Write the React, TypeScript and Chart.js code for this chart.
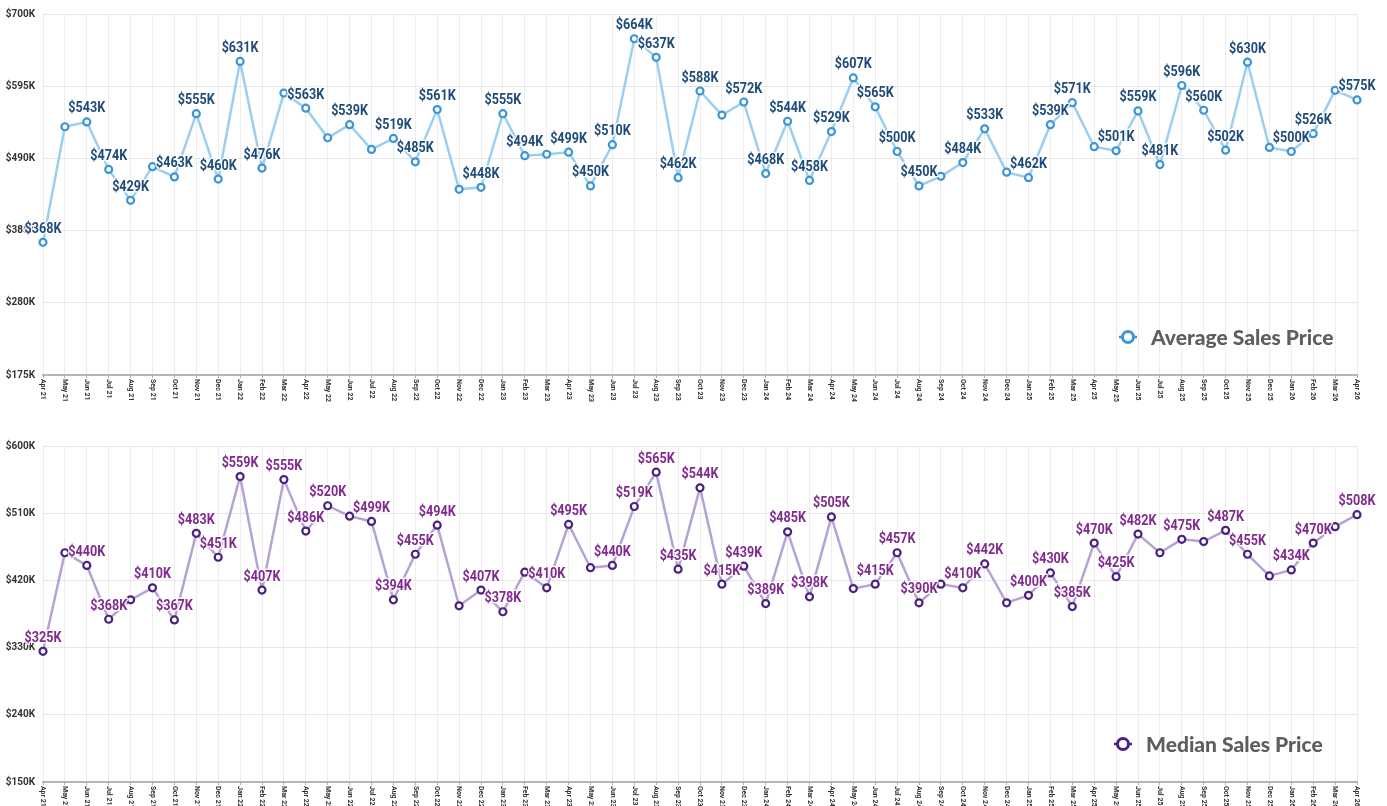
import React, { useEffect, useRef } from 'react';
import { Chart, registerables } from 'chart.js';

Chart.register(...registerables);

const months = [
  'Apr 21', 'May 21', 'Jun 21', 'Jul 21', 'Aug 21', 'Sep 21', 'Oct 21', 'Nov 21', 'Dec 21',
  'Jan 22', 'Feb 22', 'Mar 22', 'Apr 22', 'May 22', 'Jun 22', 'Jul 22', 'Aug 22', 'Sep 22', 'Oct 22', 'Nov 22', 'Dec 22',
  'Jan 23', 'Feb 23', 'Mar 23', 'Apr 23', 'May 23', 'Jun 23', 'Jul 23', 'Aug 23', 'Sep 23', 'Oct 23', 'Nov 23', 'Dec 23',
  'Jan 24', 'Feb 24', 'Mar 24', 'Apr 24', 'May 24', 'Jun 24', 'Jul 24', 'Aug 24', 'Sep 24', 'Oct 24', 'Nov 24', 'Dec 24',
  'Jan 25', 'Feb 25', 'Mar 25', 'Apr 25', 'May 25', 'Jun 25', 'Jul 25', 'Aug 25', 'Sep 25', 'Oct 25', 'Nov 25', 'Dec 25',
  'Jan 26', 'Feb 26', 'Mar 26', 'Apr 26',
];

// values in $K
const avgSalesPrice = [
  368, 536, 543, 474, 429, 478, 463, 555, 460, 631,
  476, 585, 563, 520, 539, 503, 519, 485, 561, 445,
  448, 555, 494, 496, 499, 450, 510, 664, 637, 462,
  588, 553, 572, 468, 544, 458, 529, 607, 565, 500,
  450, 464, 484, 533, 470, 462, 539, 571, 507, 501,
  559, 481, 596, 560, 502, 630, 506, 500, 526, 589,
  575,
];

const medianSalesPrice = [
  325, 457, 440, 368, 394, 410, 367, 483, 451, 559,
  407, 555, 486, 520, 506, 499, 394, 455, 494, 386,
  407, 378, 431, 410, 495, 437, 440, 519, 565, 435,
  544, 415, 439, 389, 485, 398, 505, 409, 415, 457,
  390, 415, 410, 442, 390, 400, 430, 385, 470, 425,
  482, 457, 475, 472, 487, 455, 426, 434, 470, 492,
  508,
];

// indices whose value label is shown
const avgLabeledIdx = [0, 2, 3, 4, 6, 7, 8, 9, 10, 12, 14, 16, 17, 18, 20, 21, 22, 24, 25, 26, 27, 28, 29, 30, 32, 33, 34, 35, 36, 37, 38, 39, 40, 42, 43, 45, 46, 47, 49, 50, 51, 52, 53, 54, 55, 57, 58, 60];
const medLabeledIdx = [0, 2, 3, 5, 6, 7, 8, 9, 10, 11, 12, 13, 15, 16, 17, 18, 20, 21, 23, 24, 26, 27, 28, 29, 30, 31, 32, 33, 34, 35, 36, 38, 39, 40, 42, 43, 45, 46, 47, 48, 49, 50, 52, 54, 55, 57, 58, 60];

const avgAxis = { min: 175, max: 700, step: 105 };
const medAxis = { min: 150, max: 600, step: 90 };

const fmtK = (v: number) => `$${v}K`;

const customPlugin = {
  id: 'customDraw',
  afterDatasetsDraw(chart: any, _args: any, opts: any) {
    const ctx = chart.ctx;
    const meta = chart.getDatasetMeta(0);
    const data = chart.data.datasets[0].data as number[];
    ctx.save();
    ctx.font = 'bold 14px Roboto';
    ctx.textAlign = 'center';
    ctx.textBaseline = 'middle';
    ctx.lineJoin = 'round';
    (opts.labeled as number[]).forEach((i) => {
      const pt = meta.data[i];
      if (!pt) return;
      const t = fmtK(data[i]);
      ctx.save();
      ctx.translate(pt.x, pt.y - 13);
      ctx.scale(0.9, 1);
      ctx.lineWidth = 3;
      ctx.strokeStyle = 'rgba(255,255,255,0.85)';
      ctx.strokeText(t, 0, 0);
      ctx.fillStyle = opts.labelColor;
      ctx.fillText(t, 0, 0);
      ctx.restore();
    });
    ctx.restore();
  },
  afterDraw(chart: any, _args: any, opts: any) {
    const ctx = chart.ctx;
    const xs = chart.scales.x;
    // rotated x tick labels (reading top to bottom)
    ctx.save();
    ctx.font = 'bold 7px Roboto';
    ctx.fillStyle = '#333';
    ctx.textAlign = 'left';
    ctx.textBaseline = 'middle';
    (chart.data.labels as string[]).forEach((lab, i) => {
      const x = xs.getPixelForValue(i);
      ctx.save();
      ctx.translate(x, xs.top + 4);
      ctx.rotate(Math.PI / 2);
      ctx.fillText(lab, 0, 0);
      ctx.restore();
    });
    ctx.restore();

    // legend inside chart area
    const area = chart.chartArea;
    const cy = area.bottom - 38;
    const cx = opts.legendX;
    ctx.save();
    ctx.strokeStyle = opts.pointColor;
    ctx.lineWidth = 2.5;
    ctx.beginPath();
    ctx.moveTo(cx - 9, cy);
    ctx.lineTo(cx + 9, cy);
    ctx.stroke();
    ctx.beginPath();
    ctx.arc(cx, cy, 5.5, 0, Math.PI * 2);
    ctx.fillStyle = '#fff';
    ctx.fill();
    ctx.lineWidth = 3;
    ctx.stroke();
    ctx.font = '900 21px Lato';
    ctx.fillStyle = '#5e5e5e';
    ctx.textAlign = 'left';
    ctx.textBaseline = 'middle';
    ctx.fillText(opts.legendText, cx + 23, cy + 1);
    ctx.restore();
  },
};

function makeConfig(
  values: number[],
  labeled: number[],
  axis: { min: number; max: number; step: number },
  lineColor: string,
  pointColor: string,
  labelColor: string,
  legendText: string,
  legendX: number,
  padTop: number,
  xAxisH: number,
): any {
  return {
    type: 'line',
    data: {
      labels: months,
      datasets: [
        {
          label: legendText,
          data: values,
          borderColor: lineColor,
          borderWidth: 2.5,
          pointRadius: 3.5,
          pointBorderWidth: 2.2,
          pointBorderColor: pointColor,
          pointBackgroundColor: '#fff',
          tension: 0,
          fill: false,
        },
      ],
    },
    options: {
      animation: false,
      responsive: true,
      maintainAspectRatio: false,
      layout: { padding: { top: padTop, right: 30, left: 0, bottom: 0 } },
      plugins: {
        legend: { display: false },
        tooltip: { enabled: false },
        customDraw: { labeled, labelColor, pointColor, legendText, legendX },
      },
      scales: {
        x: {
          grid: { color: '#ececec', lineWidth: 1, drawTicks: true, tickLength: 3, tickColor: '#b0b0b0' },
          border: { color: '#b5b5b5', width: 2 },
          ticks: { display: false },
          afterFit: (s: any) => {
            s.height = xAxisH;
          },
        },
        y: {
          min: axis.min,
          max: axis.max,
          ticks: {
            stepSize: axis.step,
            callback: (v: any) => fmtK(v),
            font: { family: 'Roboto', weight: 'bold', size: 10 },
            color: '#333',
            padding: 8,
          },
          grid: { color: '#e6e6e6', drawTicks: false },
          border: { display: false },
          afterFit: (s: any) => {
            s.width = 43;
          },
        },
      },
    },
    plugins: [customPlugin],
  };
}

export default function App() {
  const topRef = useRef<HTMLCanvasElement | null>(null);
  const botRef = useRef<HTMLCanvasElement | null>(null);

  useEffect(() => {
    document.body.style.margin = '0';
    const c1 = new Chart(
      topRef.current as HTMLCanvasElement,
      makeConfig(avgSalesPrice, avgLabeledIdx, avgAxis, '#9ccfef', '#3b95d6', '#1f4b78', 'Average Sales Price', 1128, 10, 28),
    );
    const c2 = new Chart(
      botRef.current as HTMLCanvasElement,
      makeConfig(medianSalesPrice, medLabeledIdx, medAxis, '#b6a2d3', '#4a2281', '#812b8f', 'Median Sales Price', 1123, 43, 24),
    );
    return () => {
      c1.destroy();
      c2.destroy();
    };
  }, []);

  return (
    <div style={{ position: 'absolute', left: 0, top: 0, width: 1387, height: 806, overflow: 'hidden', background: '#fff' }}>
      <div style={{ position: 'relative', width: 1387, height: 403 }}>
        <canvas ref={topRef} />
      </div>
      <div style={{ position: 'relative', width: 1387, height: 403 }}>
        <canvas ref={botRef} />
      </div>
    </div>
  );
}
